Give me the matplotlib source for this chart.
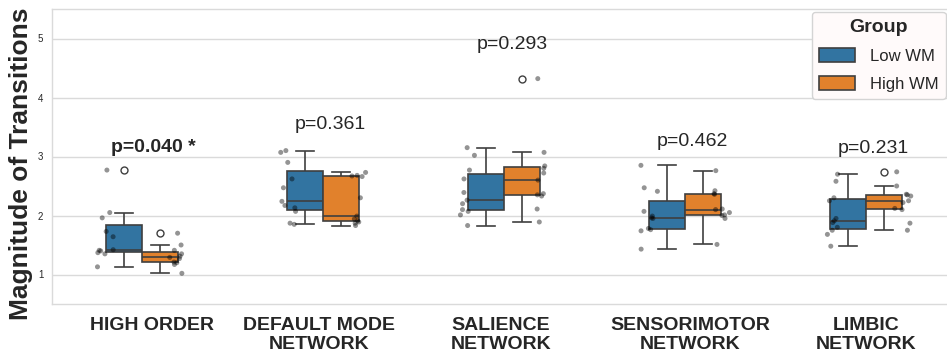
import numpy as np
import pandas as pd
import matplotlib
matplotlib.use("Agg")
import matplotlib.pyplot as plt
import matplotlib.transforms as mtransforms
import seaborn as sns
from matplotlib.patches import Patch

# ---- data ----
networks = ["HIGH ORDER", "DEFAULT MODE\nNETWORK", "SALIENCE\nNETWORK",
            "SENSORIMOTOR\nNETWORK", "LIMBIC\nNETWORK"]
groups = ["Low WM", "High WM"]

low_high_order = [2.77, 2.05, 1.96, 1.73, 1.64, 1.42, 1.41, 1.40, 1.37, 1.35, 1.13]
high_high_order = [1.70, 1.50, 1.41, 1.35, 1.31, 1.29, 1.27, 1.21, 1.20, 1.17, 1.02]

low_dmn = [3.10, 3.07, 2.90, 2.62, 2.47, 2.24, 2.17, 2.13, 2.07, 1.87, 1.85]
high_dmn = [2.73, 2.68, 2.67, 2.66, 2.30, 1.99, 1.94, 1.91, 1.89, 1.87, 1.83]

low_salience = [3.15, 3.02, 2.77, 2.62, 2.39, 2.26, 2.20, 2.10, 2.07, 2.01, 1.83]
high_salience = [4.32, 3.07, 2.84, 2.80, 2.72, 2.60, 2.37, 2.35, 2.33, 2.11, 1.89]

low_smn = [2.85, 2.47, 2.41, 2.07, 1.99, 1.96, 1.95, 1.78, 1.76, 1.74, 1.43]
high_smn = [2.76, 2.42, 2.37, 2.36, 2.11, 2.10, 2.05, 2.01, 2.00, 1.95, 1.51]

low_limbic = [2.70, 2.58, 2.30, 2.25, 1.95, 1.91, 1.88, 1.80, 1.75, 1.68, 1.48]
high_limbic = [2.74, 2.50, 2.36, 2.35, 2.33, 2.25, 2.22, 2.12, 2.10, 1.87, 1.75]

p_texts = ["p=0.040 *", "p=0.361", "p=0.293", "p=0.462", "p=0.231"]
p_bold = [True, False, False, False, False]

low_values = [low_high_order, low_dmn, low_salience, low_smn, low_limbic]
high_values = [high_high_order, high_dmn, high_salience, high_smn, high_limbic]

rows = []
for net, lo, hi in zip(networks, low_values, high_values):
    rows += [(net, groups[0], v) for v in lo]
    rows += [(net, groups[1], v) for v in hi]
df = pd.DataFrame(rows, columns=["Network", "Group", "Value"])

# ---- styling ----
plt.rcParams["font.family"] = ["Liberation Sans", "DejaVu Sans"]
text_color = "#262626"
grid_color = "#dadada"
base_colors = {"Low WM": "#1f77b4", "High WM": "#ff7f0e"}
box_colors = {k: sns.desaturate(c, 0.75) for k, c in base_colors.items()}
line_color = "#3f3f3f"

fig = plt.figure(figsize=(9.47, 3.53), dpi=100)
W, H = 947, 353
ax = fig.add_axes([51.7 / W, 49 / H, 904.8 / W, 295 / H])

sns.boxplot(data=df, x="Network", y="Value", hue="Group", order=networks,
            hue_order=groups, palette=base_colors, width=0.4, linewidth=1.2,
            fliersize=5, ax=ax, legend=False)
np.random.seed(3)
sns.stripplot(data=df, x="Network", y="Value", hue="Group", order=networks,
              hue_order=groups, dodge=True, palette={g: "black" for g in groups},
              alpha=0.42, size=3.6, jitter=True, ax=ax, legend=False, zorder=5)

ax.set_xlim(-0.5, 4.5)
ax.set_ylim(0.5, 5.5)
ax.set_yticks([1, 2, 3, 4, 5])
ax.set_xlabel("")
ax.set_ylabel("Magnitude of Transitions", fontsize=19, fontweight="bold",
              color=text_color)
ax.yaxis.set_label_coords(-0.0205, 0.4746)
ax.grid(axis="y", color=grid_color, linewidth=1)
ax.grid(axis="x", visible=False)
ax.set_axisbelow(True)
for s in ax.spines.values():
    s.set_color(grid_color)
    s.set_linewidth(1)
ax.tick_params(axis="x", length=0, pad=9, labelsize=14, labelcolor=text_color)
ax.tick_params(axis="y", length=0, pad=6, labelsize=7, labelcolor=text_color)

# small horizontal nudges of the category labels (pixels) to match the reference
label_dx_px = [9.5, -4.5, -3, 5, 0]
for lab, dx in zip(ax.get_xticklabels(), label_dx_px):
    lab.set_fontweight("bold")
    lab.set_linespacing(1.2)
    lab.set_transform(lab.get_transform() +
                      mtransforms.ScaledTranslation(dx / 100, 0, fig.dpi_scale_trans))

# p-value annotations
p_x = [0.063, 1.040, 2.044, 3.041, 4.039]
p_y = [3.07, 3.46, 4.83, 3.18, 3.06]
for x, y, t, b in zip(p_x, p_y, p_texts, p_bold):
    ax.text(x, y, t, ha="center", va="baseline", fontsize=14,
            fontweight="bold" if b else "normal", color=text_color)

handles = [Patch(facecolor=box_colors[g], edgecolor=line_color, linewidth=1.2, label=g)
           for g in groups]
leg = ax.legend(handles=handles, title="Group", loc="upper left",
                bbox_to_anchor=(812 / W, 1 - 12 / H), bbox_transform=fig.transFigure,
                borderaxespad=0, fontsize=12, title_fontproperties={"weight": "bold", "size": 14},
                handlelength=2.2, handleheight=0.9, handletextpad=0.9,
                labelspacing=0.75, frameon=True, fancybox=True, framealpha=1)
leg.get_frame().set_facecolor("#fffafa")
leg.get_frame().set_edgecolor("#d4d4d4")
for t in leg.get_texts():
    t.set_color(text_color)
leg.get_title().set_color(text_color)

fig.savefig("out.png", dpi=100)
